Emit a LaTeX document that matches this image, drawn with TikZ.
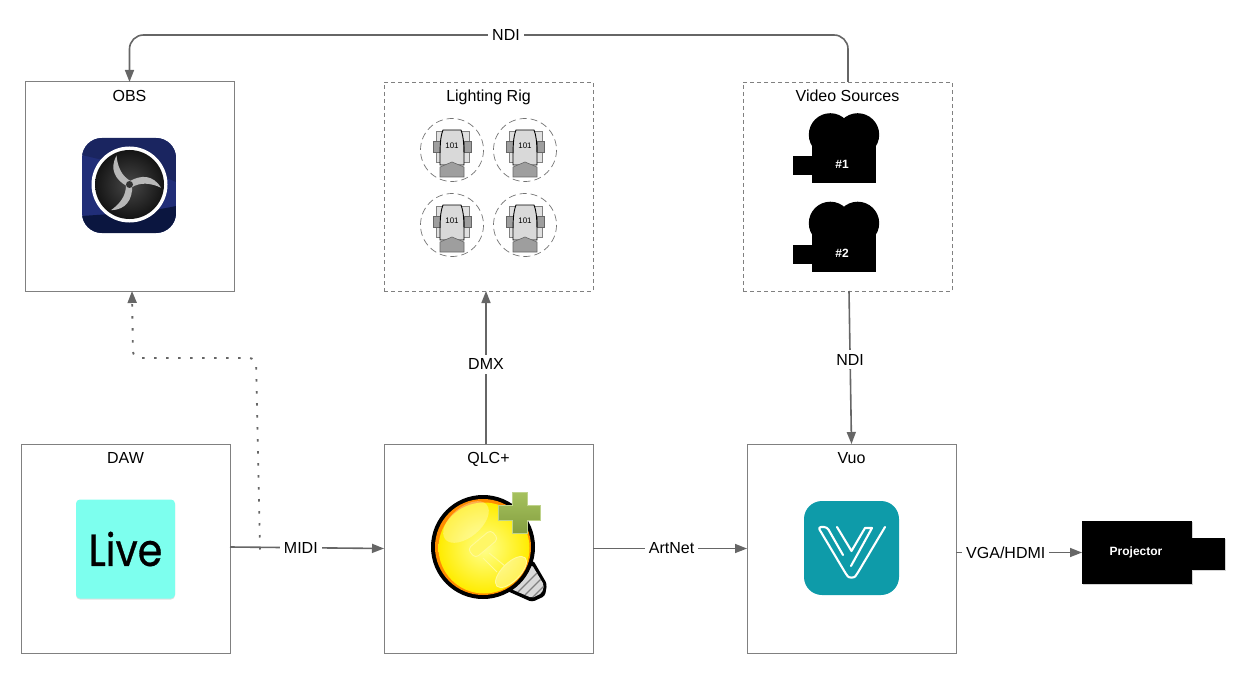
\documentclass[tikz,border=0pt]{standalone}
\usepackage{fontspec}
\setmainfont{Liberation Sans}
\newfontfamily\livefont[FakeStretch=0.88,FakeBold=0.7]{Poppins}
\usetikzlibrary{arrows.meta,positioning,shadows}

\definecolor{linegray}{HTML}{666666}
\definecolor{boxgray}{HTML}{808080}
\definecolor{obsblue}{HTML}{212E78}
\definecolor{obstop}{HTML}{1A2560}
\definecolor{obsdark}{HTML}{0B1640}
\definecolor{livecyan}{HTML}{7DFFEE}
\definecolor{vuoteal}{HTML}{0E9BA9}
\definecolor{plusgreen}{HTML}{9CBB4C}

\tikzset{
    appbox/.style = {draw = boxgray, line width = 1pt, minimum size = 209pt, inner sep = 0pt, outer sep = 0pt},
    groupbox/.style = {appbox, dashed, line width = 0.8pt, dash pattern = on 4pt off 3pt},
    boxtitle/.style = {font = \fontsize{16}{18}\selectfont, inner sep = 0pt},
    flow/.style = {->, color = linegray, line width = 1.6pt},
    flowlabel/.style = {fill = white, font = \fontsize{16}{18}\selectfont, inner sep = 4pt, text = black},
    blackblock/.style = {fill = black, text = white, inner sep = 0pt, outer sep = 0pt, font = \bfseries\fontsize{12}{14}\selectfont},
    camlobe/.style = {circle, fill = black, minimum size = 43pt, inner sep = 0pt},
    fixture/.pic = {
        \draw[black!55, dash pattern = on 7pt off 4pt, line width = 0.7pt] (0,0) circle (31.5);
        \draw[boxgray, fill = black!12, line width = 0.6pt] (-16,-19) rectangle (17,12);
        \draw[linegray, fill = black!38, line width = 0.6pt] (-19,-9) rectangle (-12,2);
        \draw[linegray, fill = black!38, line width = 0.6pt] (12,-9) rectangle (19,2);
        \draw[black, fill = black!15, line width = 0.9pt] (-9,-20) -- (9,-20) .. controls (12,-12) and (12,-4) .. (12,15) -- (-12,15) .. controls (-12,-4) and (-12,-12) .. (-9,-20) -- cycle;
        \draw[linegray, fill = black!38, line width = 0.6pt] (-12,17) -- (0,12) -- (12,17) -- (12,27) -- (-12,27) -- cycle;
        \node[font = \fontsize{8}{9}\selectfont, inner sep = 0pt] (-num) at (0,-4) {101};
    }
}

\begin{document}
\begin{tikzpicture}[
    x = 1pt, y = -1pt, % same units as the reference pixels
    > = {Triangle[length=12pt,width=9pt]}, % arrow head style
    node distance = 153pt and 150pt % gaps between boxes
    ]
    \useasboundingbox (0,0) rectangle (1244,679);

    % boxes
    \node[appbox] (obs) at (129.5,186.5) {};
    \node[groupbox] (rig) [right=of obs] {};
    \node[groupbox] (video) [right=of rig] {};
    \node[appbox] (daw) [below=of obs, xshift=-4pt] {};
    \node[appbox] (qlc) [below=of rig] {};
    \node[appbox] (vuo) [below=of video, xshift=4pt] {};

    \node[boxtitle] (obstitle) [below=8pt of obs.north] {OBS};
    \node[boxtitle] (rigtitle) [below=8pt of rig.north] {Lighting Rig};
    \node[boxtitle] (videotitle) [below=8pt of video.north] {Video Sources};
    \node[boxtitle] (dawtitle) [below=8pt of daw.north] {DAW};
    \node[boxtitle] (qlctitle) [below=8pt of qlc.north] {QLC+};
    \node[boxtitle] (vuotitle) [below=8pt of vuo.north] {Vuo};

    % OBS icon
    \begin{scope}
        \clip[rounded corners=20pt] (82,138) rectangle (176,233);
        \fill[obsblue] (82,138) rectangle (176,233);
        \fill[obstop] (82,138) -- (176,138) -- (176,182) .. controls (150,170) and (110,162) .. (82,155) -- cycle;
        \fill[obsdark] (82,216) .. controls (110,214) and (150,212) .. (176,206) -- (176,233) -- (82,233) -- cycle;
    \end{scope}
    \fill[white] (129.5,184.5) circle (38);
    \shade[inner color = black!72, outer color = black!92] (129.5,184.5) circle (34.5);
    \foreach \a in {0,120,240} {
        \fill[black!28, shift={(129.5,184.5)}, rotate=\a] (-13,-29) .. controls (-20,-16) and (-15,-5) .. (-2,2) -- (2,-3) .. controls (-8,-8) and (-12,-18) .. (-13,-29) -- cycle;
    }
    \fill[black!80] (129.5,184.5) circle (3.5);

    % lighting rig
    \foreach \i/\x/\y in {1/452/150, 2/525/150, 3/452/225, 4/525/225} {
        \pic (fix\i) at (\x,\y) {fixture};
    }

    % cameras
    \foreach \i/\y in {1/0, 2/88.5} {
        \node[camlobe] (lobea\i) at (830.3,134.7+\y) {};
        \node[camlobe] (lobeb\i) at (857.7,134.7+\y) {};
        \node[blackblock, minimum width=64pt, minimum height=37pt] (cam\i) at (844,164.5+\y) {\hspace*{-4pt}\#\i};
        \node[blackblock, minimum width=19pt, minimum height=19pt] (lens\i) [left=0pt of cam\i, yshift=-1pt] {};
    }

    % Live icon
    \node[fill=livecyan, rounded corners=4pt, minimum size=99pt, inner sep=0pt, drop shadow={shadow xshift=0pt, shadow yshift=-1pt, opacity=.25}, font=\livefont\fontsize{45}{45}\selectfont] (live) at (125.5,549) {Live};

    % QLC+ icon
    \fill[black, rounded corners=3pt] (533,560) -- (547,584) -- (545,596) -- (532,602) -- (505,590) -- cycle;
    \begin{scope}
        \clip[rounded corners=2pt] (532,565) -- (544,585) -- (542,593) -- (532,598) -- (511,589) -- cycle;
        \fill[black!15] (505,555) rectangle (550,605);
        \foreach \t in {0,5,10,15} {
            \draw[black!50, line width=1.2pt] (514+\t,596+\t) -- (538+\t,572+\t);
        }
    \end{scope}
    \fill[black] (483,547) circle (52);
    \fill[orange!90!yellow] (483,547) circle (48);
    \shade[inner color=yellow!45!white, outer color=yellow!85!orange] (484,548) circle (45.5);
    \fill[white, opacity=.3, rotate around={40:(466,522)}] (466,522) ellipse (27 and 15);
    \begin{scope}[draw=yellow!40!white, line width=0.9pt]
        \draw[rotate around={40:(483,544)}, rounded corners=4pt, fill=yellow!60!white] (468,538) rectangle (498,550);
        \draw (489,553) -- (505,566);
        \draw (483,558) -- (497,572);
        \draw[rotate around={45:(511,572)}, fill=white, fill opacity=.35] (511,572) ellipse (20 and 9);
    \end{scope}
    \draw[plusgreen!65!white, line width=1pt, top color=plusgreen!90!white, bottom color=plusgreen!85!black] (512,492) -- (527,492) -- (527,505) -- (540,505) -- (540,520) -- (527,520) -- (527,533) -- (512,533) -- (512,520) -- (498,520) -- (498,505) -- (512,505) -- cycle;

    % Vuo icon
    \fill[vuoteal, rounded corners=18pt] (804,501) rectangle (899,595);
    \draw[white, line width=2.1pt, line cap=round, line join=round, rounded corners=3pt] (885,527) -- (857,574) .. controls (854,578) and (849,578) .. (846,574) -- (818,527) -- (827,527) -- (843,555);
    \draw[white, line width=2.1pt, line cap=round, line join=round] (837,527) -- (851.5,551) -- (865,528) -- (872,528) -- (851,566);

    % projector
    \node[blackblock, minimum width=110pt, minimum height=63pt, drop shadow={shadow xshift=1pt, shadow yshift=-1pt, opacity=.35}] (projector) at (1137,552.5) {\hspace*{-2pt}Projector};
    \node[blackblock, minimum width=33pt, minimum height=32pt, drop shadow={shadow xshift=1pt, shadow yshift=-1pt, opacity=.35}] (projlens) [right=0pt of projector, yshift=-1pt] {};

    % connectors
    \coordinate (ndibend) at (506,35);
    \coordinate (branch) at (260,549.5);
    \coordinate (dota) at (256,358);
    \coordinate (dotb) at (133,358);

    \draw[flow, rounded corners=14pt] ([xshift=0.5pt]video.north) |- (ndibend) -| (obs.north);
    \node[flowlabel] (ndilabel) at (ndibend) {NDI};
    \path ([xshift=-2.5pt]qlc.north) edge[flow] node[flowlabel, pos=.52]{DMX} ([xshift=-2.5pt]rig.south);
    \path ([xshift=1.5pt]video.south) edge[flow] node[flowlabel, pos=.45]{NDI} (vuo.north);
    \path ([yshift=1.5pt]daw.east) edge[flow] node[flowlabel, pos=.46]{MIDI} (qlc.west);
    \path (qlc.east) edge[flow] node[flowlabel, pos=.51]{ArtNet} (vuo.west);
    \path (vuo.east |- projector.west) edge[flow] node[flowlabel, pos=.395]{VGA/HDMI} (projector.west);
    \draw[flow, line width=1.9pt, dash pattern=on 2.5pt off 9.5pt, rounded corners=7pt] (branch) -- (dota) -- (dotb) -- ([xshift=2.5pt]obs.south);
\end{tikzpicture}
\end{document}
